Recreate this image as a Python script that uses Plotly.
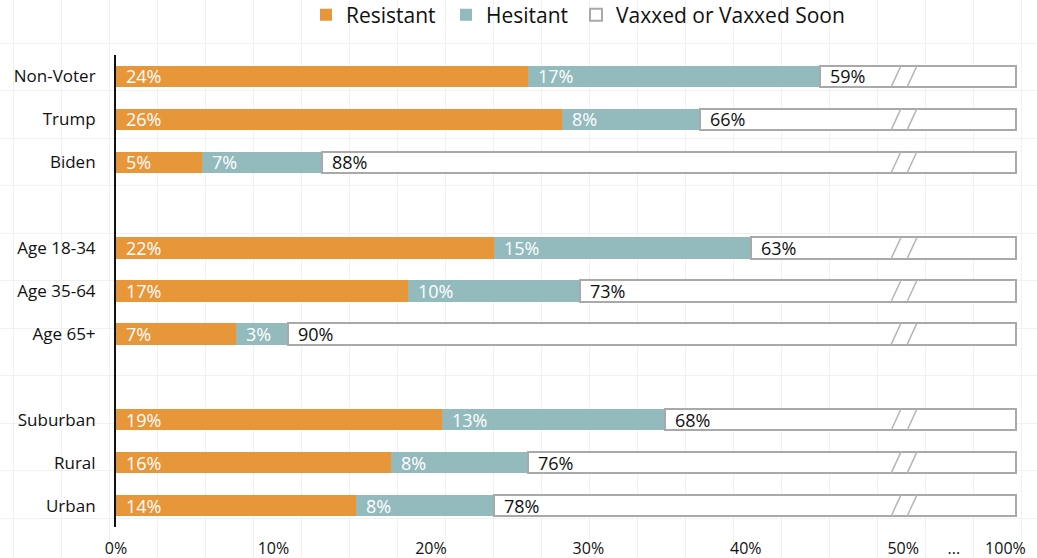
import plotly.graph_objects as go

# ---------------- data ----------------
categories = ["Non-Voter", "Trump", "Biden",
              "Age 18-34", "Age 35-64", "Age 65+",
              "Suburban", "Rural", "Urban"]
row_pos = [0, 1, 2, 4, 5, 6, 8, 9, 10]
resistant = [24, 26, 5, 22, 17, 7, 19, 16, 14]
hesitant = [17, 8, 7, 15, 10, 3, 13, 8, 8]
vaxxed = [59, 66, 88, 63, 73, 90, 68, 76, 78]
x_tick_labels = ["0%", "10%", "20%", "30%", "40%", "50%", "...", "100%"]

# ---------------- broken axis config ----------------
AXIS_END = 52.42          # where the 100% end sits after the axis break
TICK_STEP = 9.17
ELLIPSIS_POS = 48.8
HUNDRED_POS = 51.8
BREAK_A, BREAK_B, SLANT = 45.43, 46.36, 0.58
X_MAX = AXIS_END + 0.15

# page geometry (body margin removed by post_script)
W, H = 1037, 558
PX_PER_UNIT = 17.17
X0_PX = 116
x_right_px = X0_PX + X_MAX * PX_PER_UNIT


def fx(px):
    return px / W


def fy(py):
    return 1 - py / H


ORANGE = "#E8963A"
TEAL = "#93BABD"
GRAYLINE = "#A9A9A9"
FONT = "Open Sans"

tickvals = [i * TICK_STEP for i in range(6)] + [ELLIPSIS_POS, HUNDRED_POS]

vax_display = [AXIS_END - r - h for r, h in zip(resistant, hesitant)]

fig = go.Figure()

# background grid subplot (full page)
fig.add_trace(go.Scatter(x=[None], y=[None], xaxis="x", yaxis="y",
                         showlegend=False, hoverinfo="skip"))

fig.add_trace(go.Bar(orientation="h", y=row_pos, x=resistant, name="Resistant",
                     marker=dict(color=ORANGE, line=dict(width=0)), width=0.5,
                     xaxis="x2", yaxis="y2", hoverinfo="skip", legend="legend"))
fig.add_trace(go.Bar(orientation="h", y=row_pos, x=hesitant, name="Hesitant",
                     marker=dict(color=TEAL, line=dict(width=0)), width=0.5,
                     xaxis="x2", yaxis="y2", hoverinfo="skip", legend="legend2"))
fig.add_trace(go.Bar(orientation="h", y=row_pos, x=vax_display, name="Vaxxed or Vaxxed Soon",
                     marker=dict(color="white", line=dict(color=GRAYLINE, width=2)), width=0.5,
                     xaxis="x2", yaxis="y2", hoverinfo="skip", legend="legend3"))

# break slashes
sx, sy = [], []
for y in row_pos:
    for b in (BREAK_A, BREAK_B):
        sx += [b - SLANT / 2, b + SLANT / 2, None]
        sy += [y + 0.25, y - 0.25, None]
fig.add_trace(go.Scatter(x=sx, y=sy, mode="lines", line=dict(color="#B5B5B5", width=1.5),
                         xaxis="x2", yaxis="y2", showlegend=False, hoverinfo="skip"))

annotations = []
for y, r, h, v in zip(row_pos, resistant, hesitant, vaxxed):
    for start, val, col in ((0, r, "white"), (r, h, "white"), (r + h, v, "#111111")):
        annotations.append(dict(x=start, y=y, xref="x2", yref="y2", text=f"{val}%",
                                showarrow=False, xanchor="left", yanchor="middle",
                                xshift=8, font=dict(family=FONT, size=18, color=col)))


def legend_box(text_start_px):
    return dict(orientation="h", x=fx(text_start_px - 41), xanchor="left",
                y=fy(15), yanchor="middle",
                font=dict(family=FONT, size=21, color="#111111"),
                bgcolor="rgba(0,0,0,0)", borderwidth=0)


fig.update_layout(
    width=W, height=H,
    margin=dict(l=0, r=0, t=0, b=0, pad=0, autoexpand=False),
    paper_bgcolor="white",
    plot_bgcolor="rgba(0,0,0,0)",
    barmode="stack",
    font=dict(family=FONT, color="#111111"),
    showlegend=True,
    legend=legend_box(347),
    legend2=legend_box(487),
    legend3=legend_box(617),
    xaxis=dict(domain=[0, 1], range=[0, W], tick0=13, dtick=48, showgrid=True,
               gridcolor="#F1F1F1", gridwidth=1, showticklabels=False, zeroline=False,
               ticks="", showline=False, fixedrange=True, automargin=False),
    yaxis=dict(domain=[0, 1], range=[H, 0], tick0=43, dtick=47.5, showgrid=True,
               gridcolor="#F1F1F1", gridwidth=1, showticklabels=False, zeroline=False,
               ticks="", showline=False, fixedrange=True, automargin=False),
    xaxis2=dict(domain=[fx(X0_PX), fx(x_right_px)], range=[0, X_MAX], anchor="y2",
                tickvals=tickvals, ticktext=x_tick_labels, showgrid=False, zeroline=False,
                showline=False, ticks="outside", ticklen=7, tickcolor="rgba(0,0,0,0)",
                tickfont=dict(family=FONT, size=16, color="#111111"), automargin=False,
                fixedrange=True),
    yaxis2=dict(domain=[fy(527), fy(55)], range=[10.5, -0.5], anchor="x2",
                tickvals=row_pos, ticktext=categories, showgrid=False, zeroline=False,
                showline=True, linecolor="#111111", linewidth=2,
                ticks="outside", ticklen=15, tickcolor="rgba(0,0,0,0)",
                tickfont=dict(family=FONT, size=17, color="#111111"), automargin=False,
                fixedrange=True),
    annotations=annotations,
)

fig.write_html("out.html", config={"displayModeBar": False},
               post_script="document.body.style.margin='0';document.body.style.overflow='hidden';")
